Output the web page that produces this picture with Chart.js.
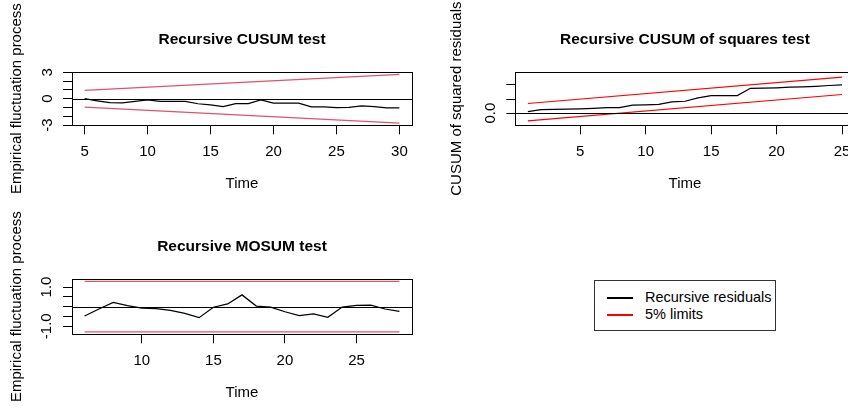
<!DOCTYPE html>
<html>
<head>
<meta charset="utf-8">
<script src="https://cdn.jsdelivr.net/npm/chart.js@4.4.1/dist/chart.umd.min.js"></script>
<style>
html,body{margin:0;padding:0;background:#fff;overflow:hidden;width:848px;height:410px;position:relative;}
canvas{position:absolute;display:block;}
#legend{position:absolute;left:594px;top:280px;width:180px;height:49px;border:1px solid #333;background:#fff;
  font-family:"Liberation Sans",Arial,Helvetica,sans-serif;font-size:14.5px;color:#000;}
#legend .row{position:absolute;left:0;height:17px;line-height:17px;white-space:nowrap;}
#legend .sw{position:absolute;left:12px;width:26px;height:2px;}
#legend .tx{position:absolute;left:50px;top:0;}
</style>
</head>
<body>
<canvas id="c1"></canvas>
<canvas id="c2"></canvas>
<canvas id="c3"></canvas>
<div id="legend"></div>
<script>
// ---------- data ----------
// Panel 1: Recursive CUSUM test
const cusumTimes = [5,6,7,8,9,10,11,12,13,14,15,16,17,18,19,20,21,22,23,24,25,26,27,28,29,30];
const cusumValues = [0,-0.24,-0.45,-0.49,-0.3,-0.15,-0.3,-0.3,-0.3,-0.58,-0.72,-0.9,-0.56,-0.56,-0.15,-0.52,-0.52,-0.52,-0.94,-0.94,-1.01,-1.0,-0.82,-0.9,-1.05,-1.05];
const cusumBoundTimes = [5,30];
const cusumUpper = [0.95,2.77];
const cusumLower = [-0.95,-2.77];
const cusumXTicks = [5,10,15,20,25,30];
const cusumYTicks = [-3,-2,-1,0,1,2,3];
const cusumYLabels = {"-3":"-3","0":"0","3":"3"};

// Panel 2: Recursive CUSUM of squares test
const sqTimes = [1,2,3,4,5,6,7,8,9,10,11,12,13,14,15,16,17,18,19,20,21,22,23,24,25];
const sqValues = [0.05,0.12,0.13,0.14,0.15,0.17,0.19,0.19,0.28,0.29,0.31,0.4,0.42,0.54,0.62,0.62,0.62,0.88,0.89,0.9,0.92,0.93,0.95,0.98,1.0];
const sqBoundTimes = [1,25];
const sqUpper = [0.34,1.28];
const sqLower = [-0.28,0.66];
const sqXTicks = [5,10,15,20,25];
const sqYTicks = [0,0.5,1];
const sqYLabels = {"0":"0.0"};

// Panel 3: Recursive MOSUM test
const mosumTimes = [6,7,8,9,10,11,12,13,14,15,16,17,18,19,20,21,22,23,24,25,26,27,28];
const mosumValues = [-0.48,-0.12,0.22,0.05,-0.08,-0.1,-0.19,-0.34,-0.56,-0.03,0.14,0.6,0.03,-0.03,-0.26,-0.46,-0.37,-0.54,-0.02,0.07,0.08,-0.12,-0.24];
const mosumBoundTimes = [6,28];
const mosumUpper = [1.29,1.29];
const mosumLower = [-1.29,-1.29];
const mosumXTicks = [10,15,20,25];
const mosumYTicks = [-1,-0.5,0,0.5,1];
const mosumYLabels = {"1":"1.0","-1":"-1.0"};

const legendLabels = ["Recursive residuals","5% limits"];

// ---------- drawing ----------
const FONT = '"Liberation Sans", Arial, Helvetica, sans-serif';
Chart.defaults.font.family = FONT;
Chart.defaults.font.size = 15;
Chart.defaults.color = '#000';

const RED_A = '#DF536B';
const RED_B = '#FF0000';

function pts(xs, ys){ return xs.map((x,i)=>({x:x, y:ys[i]})); }
function ds(xs, ys, color){
  return {data: pts(xs, ys), borderColor: color, borderWidth: 1.25, pointRadius: 0, fill: false, tension: 0};
}

const rPlugin = {
  id: 'rdecor',
  afterDatasetsDraw(chart){
    const o = chart.options.plugins.rdecor;
    const {ctx, chartArea: a} = chart;
    ctx.save();
    // zero reference line
    const y0 = Math.round(chart.scales.y.getPixelForValue(0)) + 0.5;
    ctx.strokeStyle = '#000'; ctx.lineWidth = 1;
    ctx.beginPath(); ctx.moveTo(a.left, y0); ctx.lineTo(a.right, y0); ctx.stroke();
    // box
    const l = Math.round(a.left)+0.5, t = Math.round(a.top)+0.5, r = Math.round(a.right)+0.5, b = Math.round(a.bottom)+0.5;
    ctx.strokeRect(l, t, r-l, b-t);
    // texts
    ctx.fillStyle = '#000';
    ctx.textAlign = 'center'; ctx.textBaseline = 'middle';
    ctx.font = 'bold 15.5px ' + FONT;
    ctx.fillText(o.title, (a.left + a.right)/2, a.top - 32.5);
    ctx.font = '15px ' + FONT;
    ctx.fillText('Time', (a.left + a.right)/2, a.bottom + 58.8);
    ctx.translate(o.yTitleX, (a.top + a.bottom)/2);
    ctx.rotate(-Math.PI/2);
    ctx.fillText(o.yTitle, 0, 0);
    ctx.restore();
  }
};

function makePanel(p){
  const c = document.getElementById(p.id);
  c.width = p.cw; c.height = p.ch;
  c.style.left = p.cx + 'px'; c.style.top = p.cy + 'px';
  c.style.width = p.cw + 'px'; c.style.height = p.ch + 'px';
  const yW = p.box.L - p.cx;
  const xH = p.cy + p.ch - p.box.B;
  new Chart(c, {
    type: 'line',
    data: { datasets: p.datasets },
    options: {
      responsive: false, animation: false, devicePixelRatio: 1,
      layout: { padding: { left: 0, bottom: 0, top: p.box.T - p.cy, right: p.cx + p.cw - p.box.R } },
      plugins: { legend: {display:false}, tooltip: {enabled:false}, title: {display:false},
        rdecor: { title: p.title, yTitle: p.yTitle, yTitleX: p.yTitleX - p.cx } },
      scales: {
        x: {
          type: 'linear', min: p.xMin, max: p.xMax,
          afterBuildTicks: s => { s.ticks = p.xTicks.map(v => ({value: v})); },
          afterFit: s => { s.height = xH; },
          grid: { drawOnChartArea: false, drawTicks: true, tickLength: 9, color: '#000', lineWidth: 1 },
          border: { display: true, color: '#000', width: 1 },
          ticks: { autoSkip: false, minRotation: 0, maxRotation: 0, padding: 8.5, font: {size: 15}, color: '#000',
                   callback: v => String(v) }
        },
        y: {
          type: 'linear', min: p.yMin, max: p.yMax,
          afterBuildTicks: s => { s.ticks = p.yTicks.map(v => ({value: v})); },
          afterFit: s => { s.width = yW; },
          grid: { drawOnChartArea: false, drawTicks: true, tickLength: 9, color: '#000', lineWidth: 1 },
          border: { display: true, color: '#000', width: 1 },
          ticks: { autoSkip: false, minRotation: 90, maxRotation: 90, crossAlign: 'center', padding: p.yPad,
                   font: {size: 15}, color: '#000',
                   callback: v => (p.yLabels[String(v)] !== undefined ? p.yLabels[String(v)] : '') }
        }
      }
    },
    plugins: [rPlugin]
  });
}

makePanel({
  id: 'c1', cx: 0, cy: 0, cw: 424, ch: 205,
  box: {L: 72, T: 72, R: 412, B: 125.3},
  xMin: 4, xMax: 31, yMin: -3.03, yMax: 3.03,
  xTicks: cusumXTicks, yTicks: cusumYTicks, yLabels: cusumYLabels, yPad: 8,
  title: 'Recursive CUSUM test', yTitle: 'Empirical fluctuation process', yTitleX: 17,
  datasets: [ds(cusumTimes, cusumValues, '#000'), ds(cusumBoundTimes, cusumUpper, RED_A), ds(cusumBoundTimes, cusumLower, RED_A)]
});

makePanel({
  id: 'c2', cx: 424, cy: 0, cw: 444, ch: 205,
  box: {L: 515.3, T: 72, R: 854.6, B: 125.3},
  xMin: 0.04, xMax: 25.96, yMin: -0.435, yMax: 1.46,
  xTicks: sqXTicks, yTicks: sqYTicks, yLabels: sqYLabels, yPad: 5,
  title: 'Recursive CUSUM of squares test', yTitle: 'CUSUM of squared residuals', yTitleX: 457,
  datasets: [ds(sqTimes, sqValues, '#000'), ds(sqBoundTimes, sqUpper, RED_B), ds(sqBoundTimes, sqLower, RED_B)]
});

makePanel({
  id: 'c3', cx: 0, cy: 205, cw: 424, ch: 205,
  box: {L: 72, T: 279, R: 412, B: 334.3},
  xMin: 5.12, xMax: 28.88, yMin: -1.41, yMax: 1.41,
  xTicks: mosumXTicks, yTicks: mosumYTicks, yLabels: mosumYLabels, yPad: 3.5,
  title: 'Recursive MOSUM test', yTitle: 'Empirical fluctuation process', yTitleX: 17,
  datasets: [ds(mosumTimes, mosumValues, '#000'), ds(mosumBoundTimes, mosumUpper, RED_A), ds(mosumBoundTimes, mosumLower, RED_A)]
});

// legend (HTML, real text)
const lg = document.getElementById('legend');
const legendColors = ['#000', RED_B];
const legendRowTops = [8, 25];
legendLabels.forEach((t, i) => {
  const row = document.createElement('div');
  row.className = 'row';
  row.style.top = legendRowTops[i] + 'px';
  row.style.width = '100%';
  const sw = document.createElement('div');
  sw.className = 'sw'; sw.style.background = legendColors[i]; sw.style.top = '7.5px';
  const tx = document.createElement('div');
  tx.className = 'tx'; tx.textContent = t;
  row.appendChild(sw); row.appendChild(tx);
  lg.appendChild(row);
});
</script>
</body>
</html>
